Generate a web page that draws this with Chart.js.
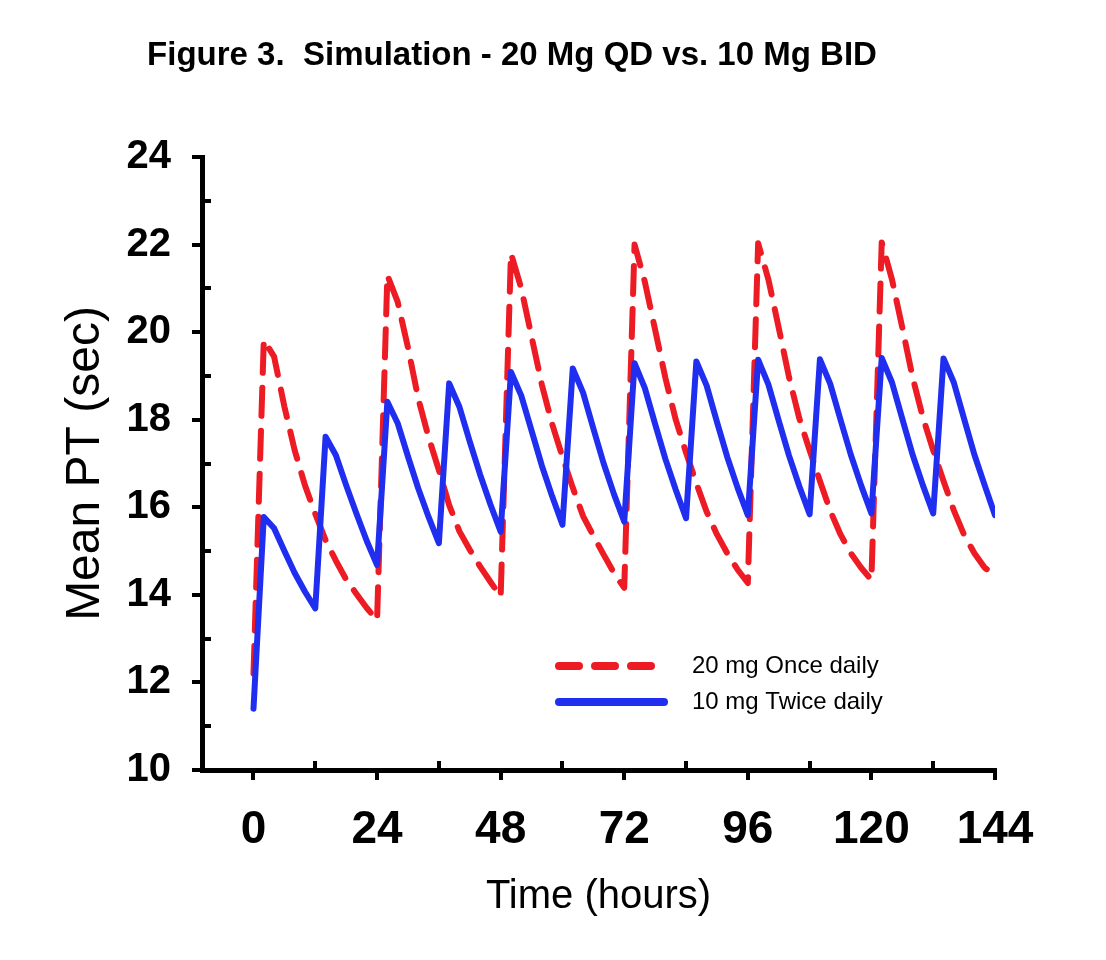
<!DOCTYPE html>
<html>
<head>
<meta charset="utf-8">
<script src="https://cdn.jsdelivr.net/npm/chart.js@4.4.1/dist/chart.umd.min.js"></script>
<style>
  html, body { margin: 0; padding: 0; background: #ffffff; }
  #wrap { width: 1106px; height: 960px; }
</style>
</head>
<body>
<div id="wrap"><canvas id="c" width="1106" height="960"></canvas></div>
<script>
// ---- Data ----
const chartTitle = 'Figure 3.  Simulation - 20 Mg QD vs. 10 Mg BID';
const xAxisTitle = 'Time (hours)';
const yAxisTitle = 'Mean PT (sec)';
const seriesNames = ['20 mg Once daily', '10 mg Twice daily'];

const xTickValues = [0, 24, 48, 72, 96, 120, 144];
const xMinorTickValues = [12, 36, 60, 84, 108, 132];
const yMinorTickValues = [11, 13, 15, 17, 19, 21, 23];

const timeHours = [
  0, 2, 4, 6, 8, 10, 12, 14, 16, 18, 20, 22,
  24, 26, 28, 30, 32, 34, 36, 38, 40, 42, 44, 46,
  48, 50, 52, 54, 56, 58, 60, 62, 64, 66, 68, 70,
  72, 74, 76, 78, 80, 82, 84, 86, 88, 90, 92, 94,
  96, 98, 100, 102, 104, 106, 108, 110, 112, 114, 116, 118,
  120, 122, 124, 126, 128, 130, 132, 134, 136, 138, 140, 142,
  144
];

const onceDaily20mg = [
  12.2, 19.82, 19.44, 18.3, 17.3, 16.5, 15.85, 15.25, 14.78, 14.35, 14.02, 13.7,
  13.42, 21.3, 20.69, 19.65, 18.48, 17.6, 16.85, 16.05, 15.45, 15.03, 14.65, 14.3,
  13.96, 21.8, 21.0, 19.9, 18.8, 17.9, 17.15, 16.45, 15.8, 15.35, 14.92, 14.5,
  14.16, 22.0, 21.15, 20.05, 18.95, 18.0, 17.25, 16.55, 15.9, 15.38, 14.95, 14.58,
  14.27, 22.03, 21.2, 20.1, 18.97, 18.03, 17.3, 16.6, 15.92, 15.38, 14.95, 14.62,
  14.34, 22.05, 21.2, 20.1, 18.97, 18.05, 17.3, 16.6, 15.93, 15.37, 14.95, 14.62,
  14.45
];

const twiceDaily10mg = [
  11.4, 15.78, 15.52, 15.0, 14.5, 14.07, 13.69, 17.61, 17.19, 16.5, 15.85, 15.23,
  14.68, 18.41, 17.92, 17.16, 16.43, 15.78, 15.18, 18.83, 18.29, 17.5, 16.75, 16.07,
  15.44, 19.09, 18.55, 17.75, 16.95, 16.25, 15.6, 19.17, 18.62, 17.8, 17.0, 16.3,
  15.67, 19.29, 18.72, 17.9, 17.1, 16.4, 15.75, 19.33, 18.78, 17.95, 17.15, 16.45,
  15.82, 19.37, 18.8, 17.98, 17.18, 16.48, 15.84, 19.38, 18.82, 18.0, 17.2, 16.5,
  15.86, 19.41, 18.85, 18.02, 17.2, 16.5, 15.86, 19.40, 18.85, 18.02, 17.2, 16.5,
  15.82
];

// ---- Styles ----
const RED = 'rgb(237, 28, 36)';
const BLUE = 'rgb(32, 46, 240)';
const FONT = "'Liberation Sans', Arial, Helvetica, sans-serif";

const toPoints = (xs, ys) => xs.map((x, i) => ({ x: x, y: ys[i] }));

// Title drawn on the canvas
const titlePlugin = {
  id: 'figTitle',
  afterDraw(chart) {
    const ctx = chart.ctx;
    ctx.save();
    ctx.font = 'bold 33px ' + FONT;
    ctx.fillStyle = '#000';
    ctx.textAlign = 'center';
    ctx.textBaseline = 'middle';
    ctx.fillText(chartTitle, 512, 56);
    ctx.restore();
  }
};

// Inward minor ticks
const minorTickPlugin = {
  id: 'minorTicks',
  afterDraw(chart) {
    const ctx = chart.ctx;
    const xs = chart.scales.x, ys = chart.scales.y;
    const area = chart.chartArea;
    ctx.save();
    ctx.strokeStyle = '#000';
    ctx.lineWidth = 4;
    ctx.lineCap = 'butt';
    yMinorTickValues.forEach(v => {
      const py = Math.round(ys.getPixelForValue(v));
      ctx.beginPath();
      ctx.moveTo(area.left, py);
      ctx.lineTo(area.left + 9, py);
      ctx.stroke();
    });
    xMinorTickValues.forEach(v => {
      const px = Math.round(xs.getPixelForValue(v));
      ctx.beginPath();
      ctx.moveTo(px, area.bottom);
      ctx.lineTo(px, area.bottom - 9);
      ctx.stroke();
    });
    ctx.restore();
  }
};

// Legend inside the plot
const legendPlugin = {
  id: 'insideLegend',
  afterDraw(chart) {
    const ctx = chart.ctx;
    const rows = [
      { ds: chart.data.datasets[0], y: 666, x0: 559, x1: 651 },
      { ds: chart.data.datasets[1], y: 702, x0: 559, x1: 664 }
    ];
    ctx.save();
    rows.forEach(r => {
      ctx.strokeStyle = r.ds.borderColor;
      ctx.lineWidth = 8;
      ctx.lineCap = 'round';
      ctx.setLineDash(r.ds.borderDash && r.ds.borderDash.length ? [20, 16] : []);
      ctx.beginPath();
      ctx.moveTo(r.x0, r.y);
      ctx.lineTo(r.x1, r.y);
      ctx.stroke();
      ctx.setLineDash([]);
      ctx.fillStyle = '#000';
      ctx.font = '24px ' + FONT;
      ctx.textAlign = 'left';
      ctx.textBaseline = 'middle';
      ctx.fillText(r.ds.label, 692, r.y);
    });
    ctx.restore();
  }
};

new Chart(document.getElementById('c'), {
  type: 'line',
  data: {
    datasets: [
      {
        label: seriesNames[0],
        data: toPoints(timeHours, onceDaily20mg),
        borderColor: RED,
        backgroundColor: RED,
        borderWidth: 6,
        borderDash: [28, 15],
        borderCapStyle: 'round',
        borderJoinStyle: 'round',
        pointRadius: 0,
        tension: 0,
        fill: false,
        order: 1
      },
      {
        label: seriesNames[1],
        data: toPoints(timeHours, twiceDaily10mg),
        borderColor: BLUE,
        backgroundColor: BLUE,
        borderWidth: 6,
        borderCapStyle: 'round',
        borderJoinStyle: 'round',
        pointRadius: 0,
        tension: 0,
        fill: false,
        order: 0
      }
    ]
  },
  options: {
    responsive: false,
    animation: false,
    devicePixelRatio: 1,
    layout: { padding: { top: 157, right: 111, bottom: 0, left: 0 } },
    plugins: {
      legend: { display: false },
      title: { display: false },
      tooltip: { enabled: false }
    },
    scales: {
      x: {
        type: 'linear',
        min: -10,
        max: 144,
        afterBuildTicks: (scale) => { scale.ticks = xTickValues.map(v => ({ value: v })); },
        afterFit: (scale) => { scale.height = 190; },
        border: { display: true, color: '#000', width: 5 },
        grid: { drawOnChartArea: false, drawTicks: true, tickLength: 10, tickWidth: 4, tickColor: '#000', lineWidth: 4, color: '#000' },
        ticks: {
          autoSkip: false, maxRotation: 0, minRotation: 0,
          color: '#000', padding: 23,
          font: { family: FONT, size: 46, weight: 'bold' }
        },
        title: {
          display: true, text: xAxisTitle, color: '#000',
          font: { family: FONT, size: 40 },
          padding: { top: 0, bottom: 39 }
        }
      },
      y: {
        type: 'linear',
        min: 10,
        max: 24,
        afterFit: (scale) => { scale.width = 202; },
        border: { display: true, color: '#000', width: 5 },
        grid: { drawOnChartArea: false, drawTicks: true, tickLength: 10, tickWidth: 4, tickColor: '#000', lineWidth: 4, color: '#000' },
        ticks: {
          stepSize: 2, color: '#000', padding: 21,
          font: { family: FONT, size: 40, weight: 'bold' }
        },
        title: {
          display: true, text: yAxisTitle, color: '#000',
          font: { family: FONT, size: 48 },
          padding: { top: 57, bottom: 0 }
        }
      }
    }
  },
  plugins: [titlePlugin, minorTickPlugin, legendPlugin]
});
</script>
</body>
</html>
